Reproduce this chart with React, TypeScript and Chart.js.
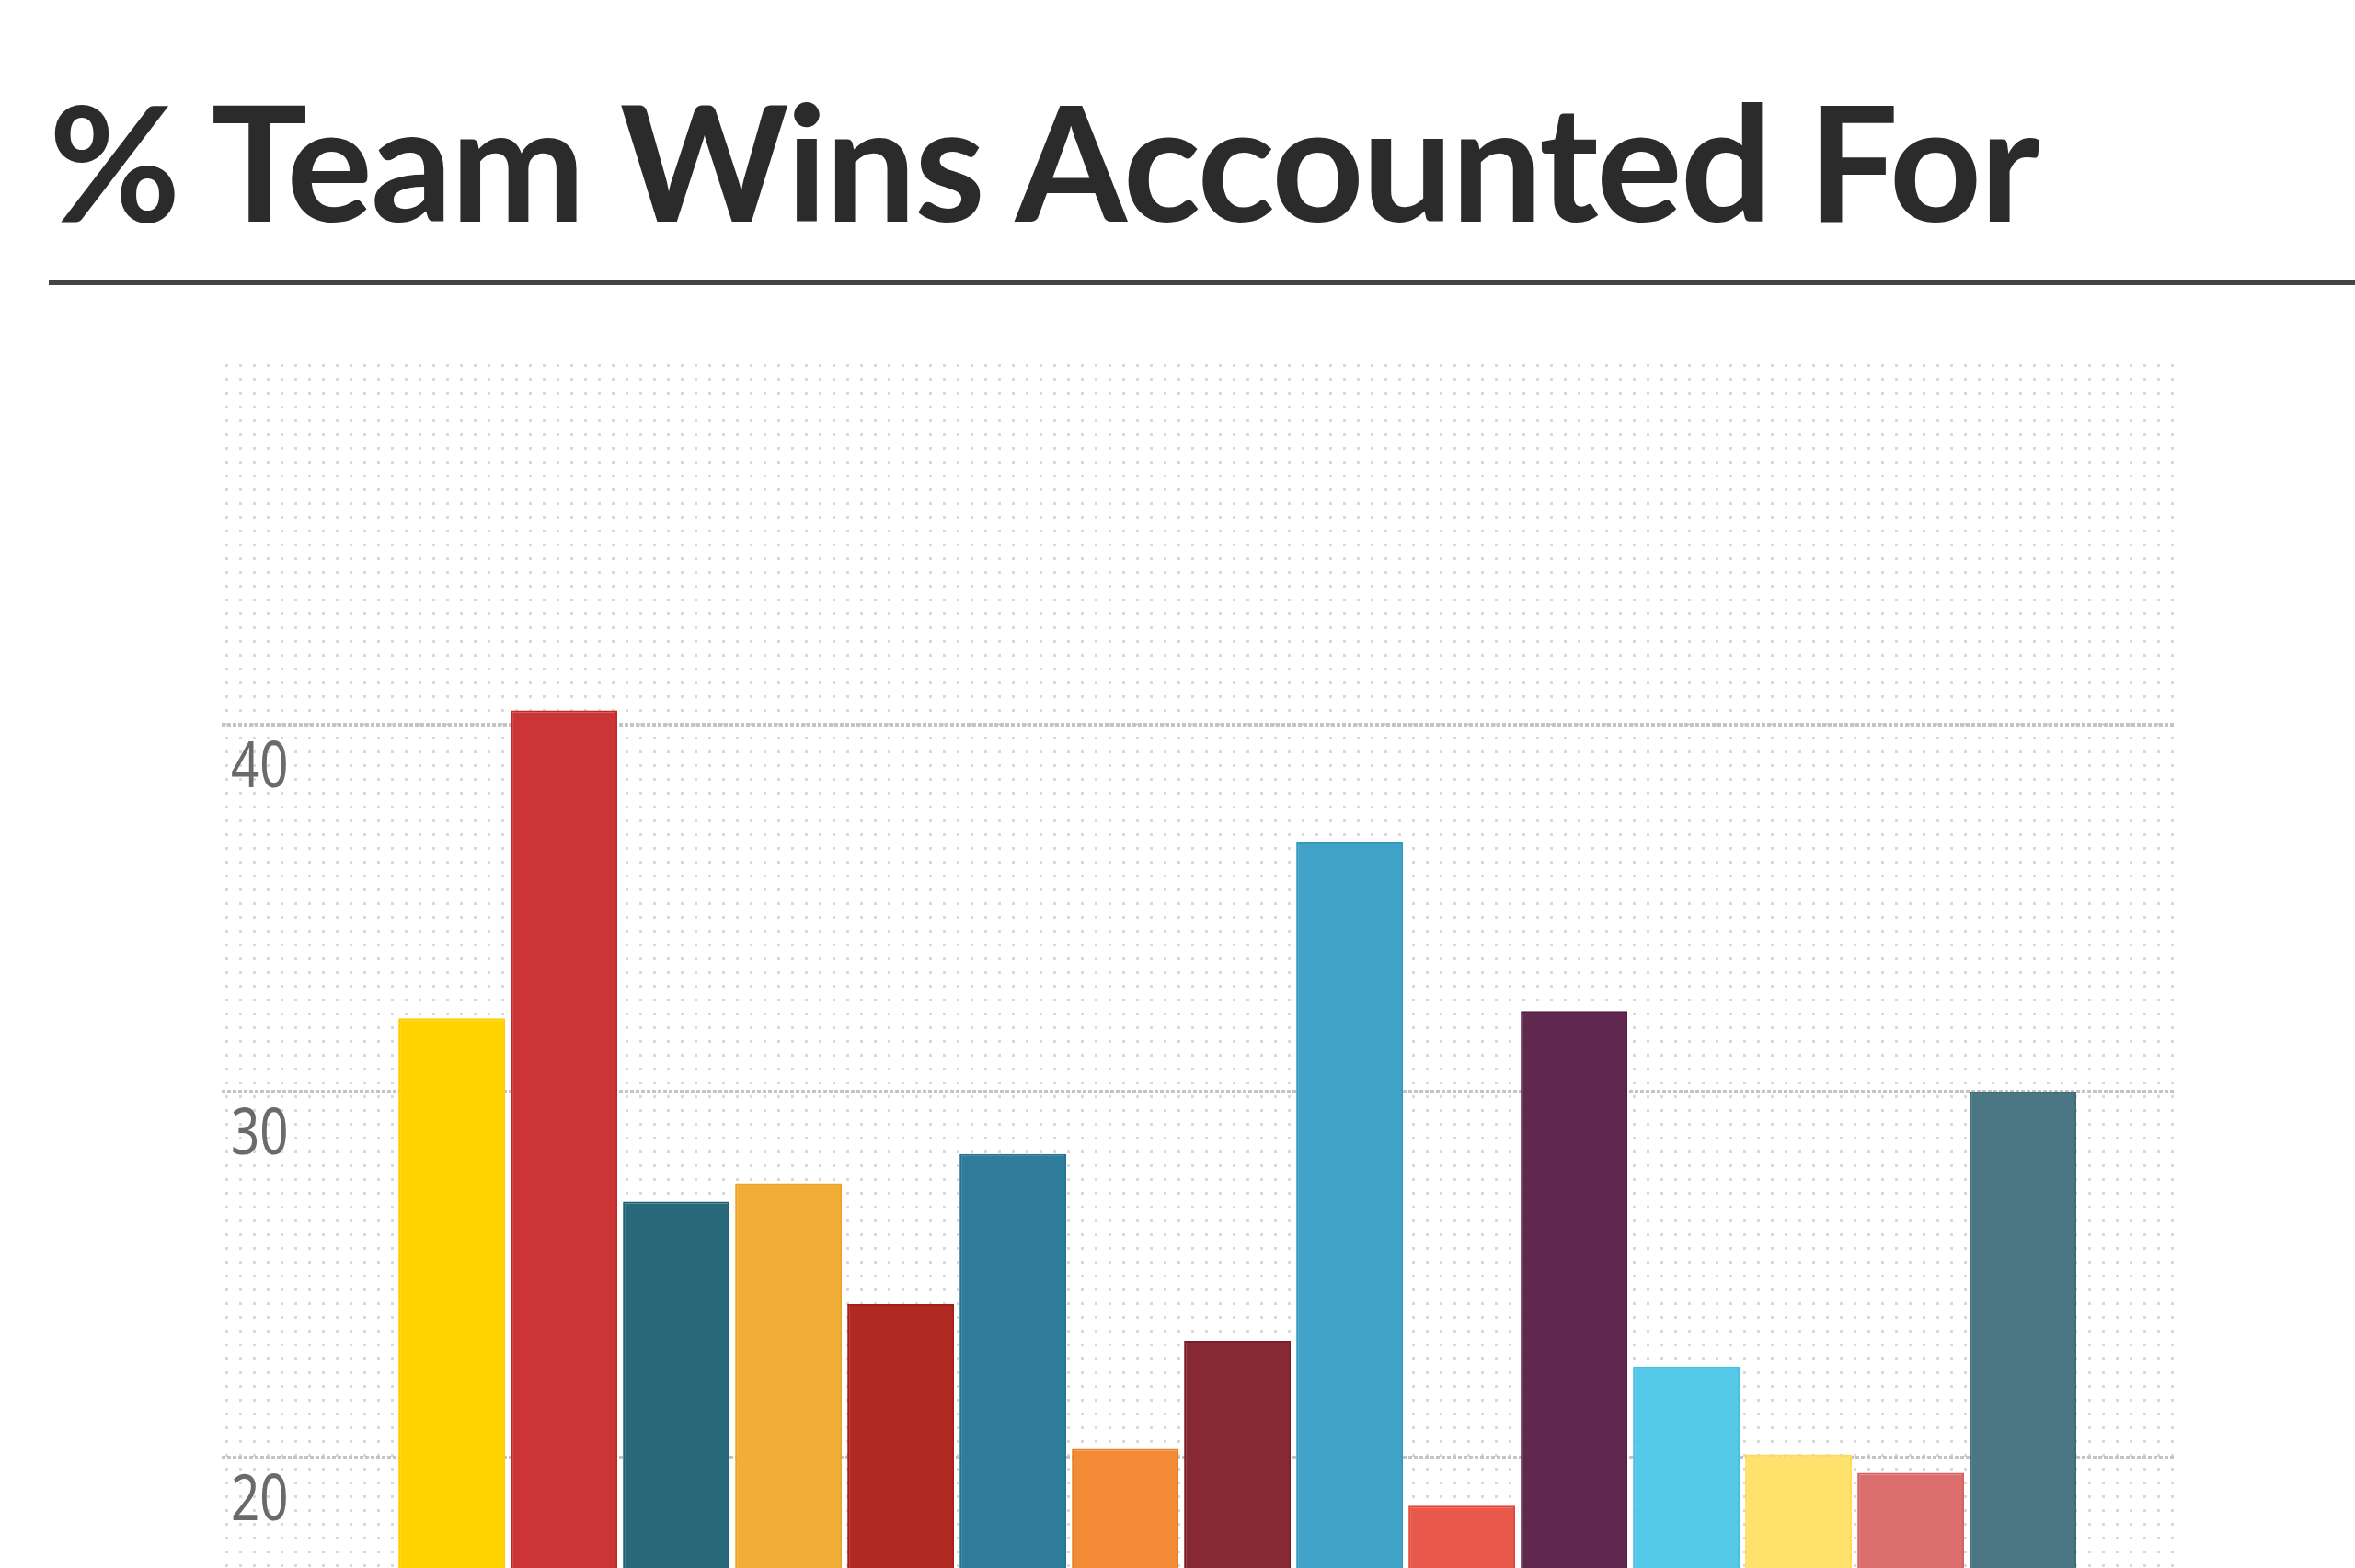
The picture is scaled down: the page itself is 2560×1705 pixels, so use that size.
import { useEffect, useRef } from 'react'
import { Chart, registerables } from 'chart.js'

Chart.register(...registerables)

// % of team wins accounted for, one bar per player, left to right
const winShare = [32.0, 40.4, 27.0, 27.5, 24.2, 28.3, 20.25, 23.2, 36.8, 18.7, 32.2, 22.5, 20.1, 19.6, 30.0]

const barColors = [
  '#FFD200', '#CC3535', '#286A7A', '#F0AE38', '#B02A22',
  '#2F7D9B', '#F28A36', '#872A34', '#41A3C8', '#E8584B',
  '#61284F', '#55C9E8', '#FFE26B', '#DB6E6D', '#4A7783',
]

// slightly deeper edge on each bar
const barEdges = [
  '#FFCC00', '#C42424', '#1C6272', '#EDA424', '#A51E16',
  '#25728F', '#EE7E26', '#7C1C28', '#3499BF', '#E2463A',
  '#561C44', '#45C0E2', '#FFDC55', '#D66060', '#3F6C79',
]

const yTicks = [20, 30, 40]

// fine dot texture behind the plot area
const dotGrid = {
  id: 'dotGrid',
  beforeDraw(chart) {
    const { ctx, chartArea } = chart
    const { left, top, right, bottom } = chartArea
    ctx.save()
    ctx.fillStyle = '#d9d9d9'
    for (let y = top + 6; y < bottom; y += 15) {
      for (let x = left + 4; x < right - 1; x += 15) {
        ctx.fillRect(x, y, 3, 3)
      }
    }
    ctx.restore()
  },
}

// tick labels sit just under their grid line, in a narrow face
const yLabels = {
  id: 'yLabels',
  afterDraw(chart) {
    const { ctx, chartArea, scales } = chart
    ctx.save()
    ctx.fillStyle = '#6a6a6a'
    ctx.font = "70px 'Noto Sans', sans-serif"
    ctx.textBaseline = 'alphabetic'
    ctx.textAlign = 'left'
    yTicks.forEach(v => {
      const y = scales.y.getPixelForValue(v)
      ctx.save()
      ctx.translate(chartArea.left + 10, y + 68)
      ctx.scale(0.78, 1)
      ctx.fillText(String(v), 0, 0)
      ctx.restore()
    })
    ctx.restore()
  },
}

function WinsChart() {
  const canvasRef = useRef(null)
  const chartRef = useRef(null)

  useEffect(() => {
    if (!canvasRef.current) return
    if (chartRef.current) chartRef.current.destroy()

    chartRef.current = new Chart(canvasRef.current.getContext('2d'), {
      type: 'bar',
      data: {
        datasets: [{
          data: winShare.map((y, i) => ({ x: i, y })),
          backgroundColor: barColors,
          borderColor: barEdges,
          borderWidth: 2,
          borderSkipped: false,
          barPercentage: 0.95,
          categoryPercentage: 1,
        }],
      },
      options: {
        animation: false,
        responsive: true,
        maintainAspectRatio: false,
        layout: { padding: { left: 241, right: 195, top: 80, bottom: 80 } },
        scales: {
          x: {
            type: 'linear',
            offset: false,
            min: -2.05,
            max: 15.36,
            display: false,
          },
          y: {
            min: 17,
            max: 50,
            afterBuildTicks: (scale) => {
              scale.ticks = yTicks.map(value => ({ value }))
            },
            grid: {
              color: '#c4c4c4',
              lineWidth: 4,
              drawTicks: false,
            },
            border: { display: false, dash: [4, 2] },
            ticks: { display: false },
          },
        },
        plugins: {
          legend: { display: false },
          tooltip: { enabled: false },
        },
      },
      plugins: [dotGrid, yLabels],
    })

    return () => {
      if (chartRef.current) {
        chartRef.current.destroy()
        chartRef.current = null
      }
    }
  }, [])

  return <canvas ref={canvasRef} />
}

export default function App() {
  return (
    <div style={{ position: 'fixed', inset: 0, overflow: 'hidden', background: '#fff' }}>
      <div
        style={{
          position: 'absolute',
          left: 53,
          top: 86,
          font: 'bold 175px Lato, sans-serif',
          lineHeight: '175px',
          letterSpacing: '-2px',
          color: '#2b2b2b',
          whiteSpace: 'nowrap',
        }}
      >
        % Team Wins Accounted For
      </div>
      <div style={{ position: 'absolute', left: 53, right: 0, top: 305, height: 5, background: '#444' }} />
      <div style={{ position: 'absolute', left: 0, top: 310, width: 2560, height: 1475 }}>
        <WinsChart />
      </div>
    </div>
  )
}
